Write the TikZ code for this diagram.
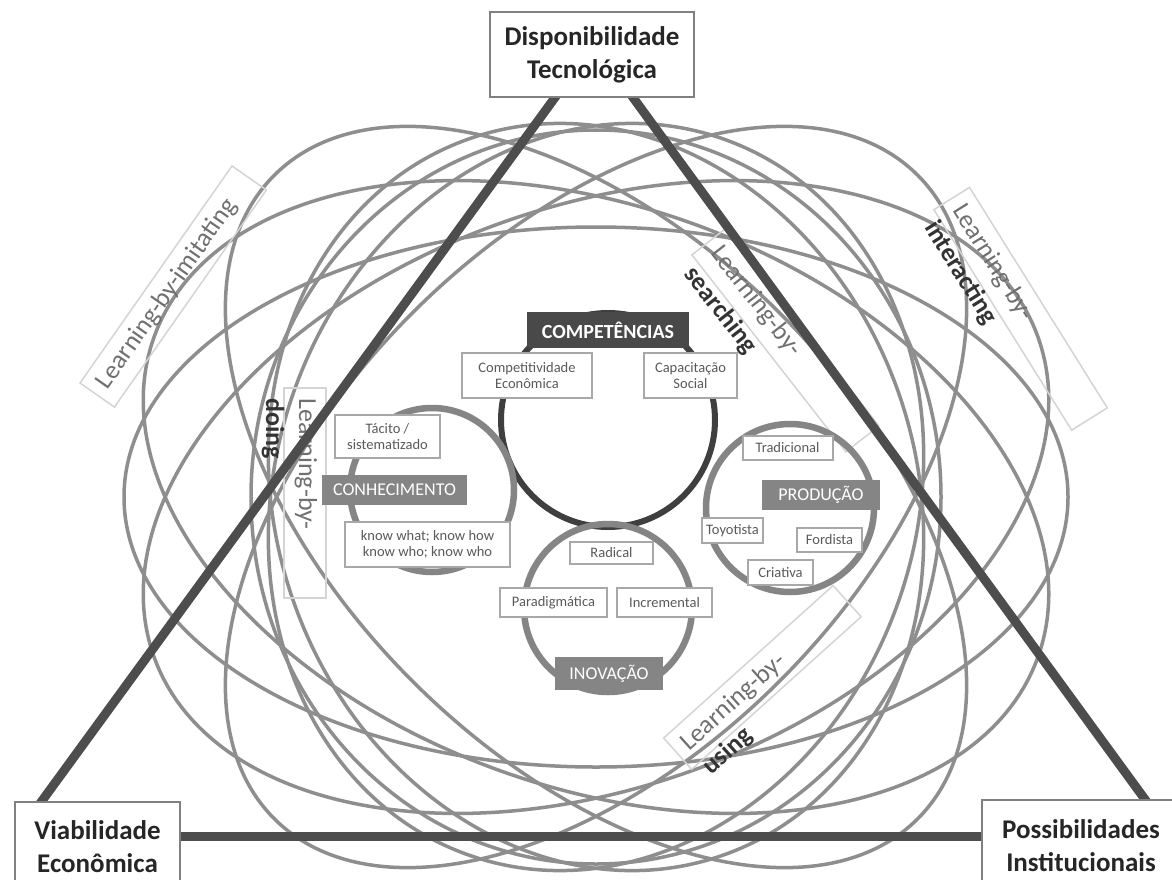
\documentclass[tikz,border=0pt]{standalone}
\usepackage{fontspec}
\setmainfont{Carlito}
\definecolor{tri}{HTML}{4D4D4D}
\definecolor{ell}{HTML}{8E8E8E}
\definecolor{darkring}{HTML}{3F3F3F}
\definecolor{midring}{HTML}{858585}
\definecolor{boxline}{HTML}{A8A8A8}
\definecolor{smalltext}{HTML}{5A5A5A}
\definecolor{lblline}{HTML}{D4D4D4}
\definecolor{lbltext}{HTML}{707070}
\begin{document}
\begin{tikzpicture}[x=1pt,y=-1pt,
  corner/.style={draw=black!50, line width=1.5pt, fill=white, align=center,
    font=\fontsize{27}{33}\selectfont\bfseries, text=black!85, inner sep=0pt},
  small/.style={draw=boxline, line width=2pt, fill=white, align=center,
    font=\fontsize{14.5}{16}\selectfont, text=smalltext, inner sep=0pt},
  cat/.style={fill=midring, text=white, inner sep=0pt,
    font=\fontsize{18}{20}\selectfont},
  ring/.style={draw=midring, line width=6.5pt},
  orbit/.style={draw=ell, line width=3.5pt},
  lblbox/.style={draw=lblline, line width=1.5pt},
  learn/.style={inner sep=0pt, text=lbltext, font=\fontsize{26}{30}\selectfont},
  learnb/.style={inner sep=0pt, text=black!80, font=\fontsize{26}{30}\selectfont\bfseries},
  edge/.style={draw=tri, line width=9pt}
]
\useasboundingbox (0,0) rectangle (1172,880);
\fill[white] (0,0) rectangle (1172,880);

% orbits
\coordinate (O) at (596,497);
\draw[orbit] (O) ellipse [x radius=472pt, y radius=270pt];
\foreach \ang/\ra/\rb in {20/470/290, -20/470/290, 45/455/260, -45/455/260, 70/380/320, -70/380/320, 90/367/345}
  \draw[orbit, rotate around={\ang:(O)}] (O) ellipse [x radius=\ra pt, y radius=\rb pt];

% learning labels
\begin{scope}[shift={(80,383)}, rotate=55, transform shape]
  \draw[lblbox] (0,0) rectangle (265,42);
  \node[learn, anchor=base west] (limit) at (10,27) {Learning-by-imitating};
\end{scope}
\begin{scope}[shift={(969.5,187.4)}, rotate=-58, transform shape]
  \draw[lblbox] (0,0) rectangle (260,42);
  \node[learn, anchor=base west] (linter1) at (10,27) {Learning-by-};
  \node[learnb, anchor=base west] (linter2) at (10,60) {interacting};
\end{scope}
\begin{scope}[shift={(725,229)}, rotate=-52, transform shape]
  \draw[lblbox] (0,0) rectangle (250,42);
  \node[learn, anchor=base west] (lsearch1) at (10,27) {Learning-by-};
  \node[learnb, anchor=base west] (lsearch2) at (10,61) {searching};
\end{scope}
\begin{scope}[shift={(326,388)}, rotate=-90, transform shape]
  \draw[lblbox] (0,0) rectangle (210,42);
  \node[learn, anchor=base west] (ldoing1) at (10,27) {Learning-by-};
  \node[learnb, anchor=base west] (ldoing2) at (10,60) {doing};
\end{scope}
\begin{scope}[shift={(663.6,738.1)}, rotate=42, transform shape]
  \draw[lblbox] (0,0) rectangle (228,42);
  \node[learn, anchor=base west] (lusing1) at (10,27) {Learning-by-};
  \node[learnb, anchor=base west] (lusing2) at (10,60) {using};
\end{scope}

% triangle
\coordinate (A) at (594,44);
\coordinate (BL) at (28,820);
\coordinate (BR) at (1160,820);
\coordinate (L1) at (100,836);
\coordinate (L2) at (1080,836);
\draw[edge] (A) -- (BL);
\draw[edge] (A) -- (BR);
\draw[edge] (L1) -- (L2);

% rings
\draw[draw=darkring, line width=6pt] (608,420) circle [radius=107pt];
\draw[ring] (432,490) circle [radius=82pt];
\draw[ring] (790,508) circle [radius=84pt];
\draw[ring] (608,608) circle [radius=84pt];

% competencias
\node[fill=darkring!95, text=white, inner sep=0pt, minimum width=162pt, minimum height=36pt,
  font=\fontsize{20}{22}\selectfont\bfseries] (comp) at (608,330) {COMPETÊNCIAS};
\node[small, minimum width=130pt, minimum height=45pt] (compe) at (527,375.5) {Competitividade\\Econômica};
\node[small, minimum width=93pt, minimum height=45pt] (capsoc) at (690.5,375.5) {Capacitação\\Social};

% conhecimento
\node[small, minimum width=105pt, minimum height=43pt] (tacito) at (387.5,436.5) {Tácito /\\sistematizado};
\node[cat, minimum width=145pt, minimum height=30pt] (conh) at (394.5,490) {CONHECIMENTO};
\node[small, minimum width=165pt, minimum height=45pt] (know) at (427.5,544.5) {know what; know how\\know who; know who};

% producao
\node[small, minimum width=90pt, minimum height=24pt] (trad) at (787.5,447.5) {Tradicional};
\node[cat, minimum width=118pt, minimum height=30pt] (prod) at (821,495) {PRODUÇÃO};
\node[small, minimum width=61pt, minimum height=25pt] (toyo) at (732.5,530.5) {Toyotista};
\node[small, minimum width=65pt, minimum height=24pt] (ford) at (829.5,540) {Fordista};
\node[small, minimum width=65pt, minimum height=25pt] (cria) at (780.5,572.5) {Criativa};

% inovacao
\node[small, minimum width=83pt, minimum height=22pt] (radi) at (611.5,553) {Radical};
\node[small, minimum width=107pt, minimum height=29pt] (para) at (553.5,602.5) {Paradigmática};
\node[small, minimum width=95pt, minimum height=29pt] (incr) at (664.5,602.5) {Incremental};
\node[cat, minimum width=108pt, minimum height=33pt] (inov) at (609,673.5) {INOVAÇÃO};

% corner boxes
\node[corner, minimum width=204pt, minimum height=85pt] (disp) at (592,54.5) {Disponibilidade\\Tecnológica};
\node[corner, minimum width=165pt, minimum height=90pt] (viab) at (97.5,847) {Viabilidade\\Econômica};
\node[corner, minimum width=198pt, minimum height=92pt] (poss) at (1081,846) {Possibilidades\\Institucionais};
\end{tikzpicture}
\end{document}
